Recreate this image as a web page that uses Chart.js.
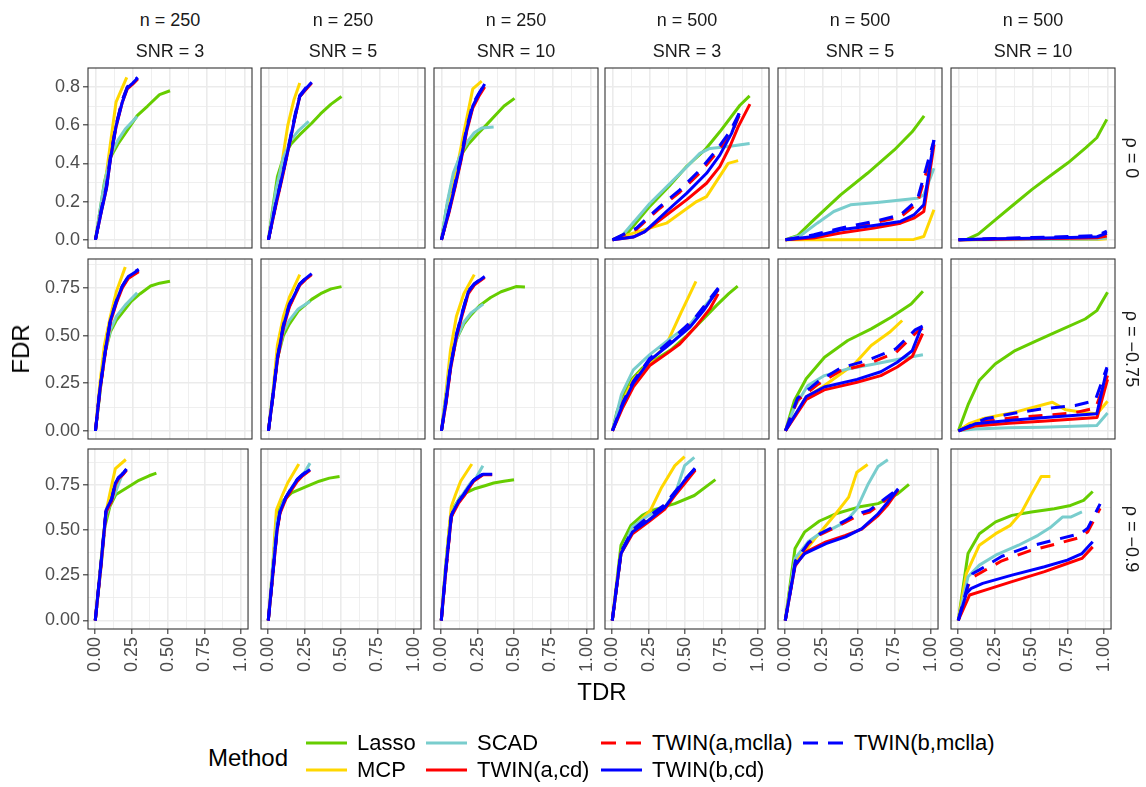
<!DOCTYPE html>
<html>
<head>
<meta charset="utf-8">
<script src="https://cdn.jsdelivr.net/npm/chart.js@4.4.1/dist/chart.umd.min.js"></script>
<style>
  body { margin: 0; background: #fff; width: 1146px; height: 787px; position: relative; overflow: hidden;
         font-family: "Liberation Sans", Arial, Helvetica, sans-serif; }
  canvas { position: absolute; }
  .txt { position: absolute; white-space: nowrap; color: #1a1a1a; }
  .strip { font-size: 18px; text-align: center; width: 164px; }
  .rstrip { font-size: 18px; transform: translate(-50%, -50%) rotate(90deg); }
  .title { font-size: 24px; color: #000; }
  .leg { font-size: 22px; color: #000; line-height: 26px; }
</style>
</head>
<body>
<script>
// ---- data ----
const methods = ['Lasso', 'MCP', 'SCAD', 'TWIN(a,cd)', 'TWIN(a,mclla)', 'TWIN(b,cd)', 'TWIN(b,mclla)'];
const nValues = [250, 250, 250, 500, 500, 500];
const snrValues = [3, 5, 10, 3, 5, 10];
const rhoLabels = ['ρ = 0', 'ρ = −0.75', 'ρ = −0.9'];
const xTickLabels = ['0.00', '0.25', '0.50', '0.75', '1.00'];
const yTickLabels = [['0.0', '0.2', '0.4', '0.6', '0.8'], ['0.00', '0.25', '0.50', '0.75'], ['0.00', '0.25', '0.50', '0.75']];

// each array: 18 panels, row-major (rho rows x n/SNR columns), points are [TDR, FDR]
const lasso = [
  [[0,0],[0.03,0.15],[0.06,0.3],[0.1,0.43],[0.15,0.5],[0.22,0.58],[0.28,0.65],[0.35,0.7],[0.43,0.76],[0.5,0.78]],
  [[0,0],[0.03,0.17],[0.06,0.33],[0.1,0.43],[0.15,0.5],[0.21,0.55],[0.29,0.61],[0.35,0.66],[0.42,0.71],[0.49,0.75]],
  [[0,0],[0.03,0.15],[0.07,0.3],[0.12,0.43],[0.18,0.5],[0.25,0.56],[0.3,0.6],[0.36,0.65],[0.42,0.7],[0.49,0.74]],
  [[0,0],[0.09,0.025],[0.25,0.175],[0.38,0.28],[0.5,0.386],[0.62,0.47],[0.72,0.565],[0.855,0.704],[0.92,0.753]],
  [[0,0],[0.08,0.021],[0.19,0.104],[0.37,0.235],[0.55,0.348],[0.73,0.47],[0.85,0.565],[0.93,0.649]],
  [[0,0],[0.06,0.003],[0.133,0.03],[0.253,0.108],[0.373,0.186],[0.494,0.264],[0.614,0.334],[0.735,0.403],[0.855,0.482],[0.928,0.534],[0.995,0.63]],
  [[0,0],[0.03,0.2],[0.06,0.4],[0.1,0.52],[0.14,0.58],[0.19,0.63],[0.24,0.68],[0.3,0.72],[0.37,0.76],[0.43,0.775],[0.5,0.785]],
  [[0,0],[0.03,0.2],[0.06,0.38],[0.1,0.5],[0.14,0.56],[0.2,0.63],[0.29,0.69],[0.35,0.72],[0.42,0.745],[0.49,0.757]],
  [[0,0],[0.03,0.18],[0.06,0.35],[0.1,0.48],[0.15,0.56],[0.2,0.61],[0.26,0.66],[0.33,0.7],[0.4,0.73],[0.5,0.757],[0.56,0.755]],
  [[0,0],[0.03,0.1],[0.07,0.18],[0.13,0.27],[0.2,0.33],[0.3,0.38],[0.4,0.43],[0.5,0.5],[0.6,0.58],[0.7,0.66],[0.78,0.72],[0.84,0.76]],
  [[0,0],[0.06,0.159],[0.139,0.273],[0.262,0.386],[0.418,0.474],[0.575,0.535],[0.709,0.596],[0.843,0.666],[0.922,0.733]],
  [[0,0],[0.067,0.142],[0.139,0.264],[0.246,0.351],[0.38,0.421],[0.515,0.47],[0.649,0.517],[0.85,0.587],[0.928,0.631],[1.0,0.727]],
  [[0,0],[0.03,0.25],[0.06,0.5],[0.1,0.63],[0.14,0.695],[0.19,0.72],[0.24,0.745],[0.3,0.775],[0.37,0.8],[0.42,0.815]],
  [[0,0],[0.03,0.25],[0.05,0.5],[0.07,0.61],[0.1,0.66],[0.16,0.705],[0.26,0.74],[0.35,0.77],[0.42,0.787],[0.49,0.796]],
  [[0,0],[0.03,0.3],[0.06,0.55],[0.09,0.63],[0.133,0.685],[0.18,0.71],[0.235,0.73],[0.3,0.745],[0.36,0.76],[0.43,0.77],[0.5,0.778]],
  [[0,0],[0.06,0.416],[0.128,0.526],[0.206,0.581],[0.273,0.609],[0.43,0.646],[0.564,0.691],[0.709,0.779]],
  [[0,0],[0.067,0.398],[0.134,0.49],[0.235,0.55],[0.347,0.59],[0.503,0.627],[0.638,0.646],[0.772,0.7],[0.85,0.752]],
  [[0,0],[0.067,0.37],[0.145,0.48],[0.257,0.545],[0.369,0.581],[0.503,0.6],[0.66,0.618],[0.772,0.636],[0.861,0.664],[0.924,0.713]]
];
const mcp = [
  [[0,0],[0.04,0.17],[0.074,0.35],[0.105,0.53],[0.138,0.72],[0.21,0.85]],
  [[0,0],[0.05,0.2],[0.09,0.4],[0.13,0.6],[0.17,0.73],[0.21,0.82]],
  [[0,0],[0.05,0.2],[0.1,0.36],[0.15,0.56],[0.21,0.79],[0.27,0.83]],
  [[0,0],[0.139,0.035],[0.25,0.061],[0.362,0.087],[0.564,0.2],[0.631,0.226],[0.776,0.4],[0.843,0.414]],
  [[0,0],[0.324,0.0],[0.861,0.002],[0.928,0.017],[0.996,0.157]],
  [[0,0],[0.5,0.001],[0.93,0.002],[0.995,0.005]],
  [[0,0],[0.03,0.25],[0.06,0.45],[0.1,0.6],[0.14,0.73],[0.2,0.86]],
  [[0,0],[0.03,0.2],[0.06,0.45],[0.1,0.6],[0.14,0.7],[0.21,0.82]],
  [[0,0],[0.03,0.2],[0.06,0.42],[0.1,0.6],[0.15,0.72],[0.22,0.82]],
  [[0,0],[0.06,0.14],[0.14,0.27],[0.25,0.36],[0.36,0.45],[0.46,0.62],[0.56,0.785]],
  [[0,0],[0.139,0.177],[0.262,0.238],[0.463,0.351],[0.575,0.448],[0.698,0.517],[0.783,0.579]],
  [[0,0],[0.07,0.037],[0.16,0.063],[0.38,0.098],[0.63,0.15],[0.72,0.11],[0.85,0.095],[0.93,0.09],[1.0,0.155]],
  [[0,0],[0.04,0.3],[0.074,0.6],[0.1,0.7],[0.138,0.84],[0.21,0.89]],
  [[0,0],[0.03,0.3],[0.056,0.61],[0.09,0.68],[0.133,0.76],[0.21,0.865]],
  [[0,0],[0.03,0.3],[0.069,0.63],[0.1,0.7],[0.133,0.77],[0.21,0.865]],
  [[0,0],[0.06,0.37],[0.139,0.508],[0.262,0.609],[0.34,0.737],[0.43,0.856],[0.497,0.906]],
  [[0,0],[0.067,0.334],[0.123,0.37],[0.213,0.462],[0.347,0.59],[0.436,0.682],[0.492,0.82],[0.566,0.862]],
  [[0,0],[0.056,0.26],[0.145,0.416],[0.257,0.48],[0.358,0.526],[0.436,0.6],[0.503,0.7],[0.57,0.796],[0.633,0.796]]
];
const scad = [
  [[0,0],[0.05,0.25],[0.1,0.44],[0.15,0.52],[0.2,0.58],[0.28,0.645]],
  [[0,0],[0.05,0.26],[0.1,0.43],[0.15,0.52],[0.2,0.57],[0.27,0.62]],
  [[0,0],[0.04,0.2],[0.08,0.35],[0.13,0.45],[0.18,0.52],[0.22,0.56],[0.27,0.585],[0.35,0.59]],
  [[0,0],[0.07,0.026],[0.25,0.19],[0.5,0.383],[0.586,0.452],[0.653,0.478],[0.765,0.487],[0.92,0.504]],
  [[0,0],[0.1,0.021],[0.213,0.087],[0.324,0.148],[0.436,0.183],[0.615,0.195],[0.884,0.217],[0.928,0.235],[0.996,0.374]],
  [[0,0],[0.5,0.002],[0.93,0.004],[0.995,0.01]],
  [[0,0],[0.03,0.2],[0.06,0.4],[0.1,0.53],[0.14,0.6],[0.2,0.66],[0.28,0.725]],
  [[0,0],[0.03,0.2],[0.06,0.38],[0.1,0.52],[0.14,0.58],[0.2,0.64],[0.28,0.68]],
  [[0,0],[0.03,0.18],[0.06,0.35],[0.1,0.48],[0.15,0.57],[0.2,0.62],[0.28,0.665]],
  [[0,0],[0.06,0.19],[0.14,0.32],[0.25,0.4],[0.38,0.48],[0.52,0.56],[0.63,0.665],[0.7,0.73]],
  [[0,0],[0.06,0.124],[0.15,0.238],[0.262,0.29],[0.418,0.325],[0.597,0.351],[0.776,0.378],[0.922,0.399]],
  [[0,0],[0.112,0.01],[0.336,0.016],[0.559,0.019],[0.928,0.028],[1.0,0.093]],
  [[0,0],[0.04,0.3],[0.074,0.58],[0.1,0.64],[0.14,0.71],[0.19,0.82]],
  [[0,0],[0.03,0.3],[0.06,0.55],[0.1,0.65],[0.15,0.72],[0.2,0.78],[0.25,0.82],[0.287,0.87]],
  [[0,0],[0.03,0.3],[0.069,0.58],[0.1,0.64],[0.15,0.7],[0.2,0.76],[0.24,0.79],[0.286,0.855]],
  [[0,0],[0.06,0.37],[0.139,0.517],[0.25,0.581],[0.362,0.627],[0.44,0.719],[0.497,0.856],[0.564,0.902]],
  [[0,0],[0.067,0.343],[0.157,0.435],[0.235,0.48],[0.324,0.508],[0.414,0.545],[0.492,0.618],[0.57,0.755],[0.638,0.851],[0.705,0.888]],
  [[0,0],[0.067,0.242],[0.145,0.306],[0.257,0.361],[0.414,0.416],[0.548,0.471],[0.638,0.517],[0.716,0.572],[0.772,0.572],[0.85,0.6]]
];
const twinACd = [
  [[0,0],[0.04,0.15],[0.074,0.27],[0.1,0.42],[0.138,0.59],[0.18,0.72],[0.214,0.79],[0.25,0.815],[0.283,0.84]],
  [[0,0],[0.05,0.18],[0.1,0.35],[0.14,0.5],[0.18,0.65],[0.21,0.75],[0.25,0.785],[0.29,0.82]],
  [[0,0],[0.05,0.14],[0.09,0.27],[0.13,0.41],[0.17,0.57],[0.21,0.69],[0.25,0.75],[0.29,0.8]],
  [[0,0],[0.139,0.014],[0.217,0.043],[0.362,0.13],[0.497,0.209],[0.631,0.296],[0.72,0.383],[0.787,0.487],[0.843,0.591],[0.922,0.71]],
  [[0,0],[0.19,0.009],[0.369,0.035],[0.593,0.061],[0.772,0.087],[0.861,0.113],[0.928,0.148],[0.996,0.496]],
  [[0,0],[0.25,0.003],[0.5,0.005],[0.75,0.008],[0.93,0.01],[0.995,0.02]],
  [[0,0],[0.03,0.21],[0.07,0.43],[0.1,0.57],[0.14,0.67],[0.18,0.75],[0.22,0.8],[0.25,0.815],[0.29,0.835]],
  [[0,0],[0.03,0.18],[0.06,0.37],[0.1,0.54],[0.14,0.65],[0.21,0.765],[0.25,0.795],[0.29,0.82]],
  [[0,0],[0.03,0.14],[0.06,0.32],[0.1,0.49],[0.14,0.61],[0.18,0.72],[0.22,0.765],[0.29,0.805]],
  [[0,0],[0.07,0.124],[0.139,0.229],[0.25,0.343],[0.362,0.404],[0.452,0.456],[0.564,0.552],[0.653,0.64],[0.709,0.719]],
  [[0,0],[0.14,0.165],[0.26,0.215],[0.48,0.255],[0.64,0.29],[0.75,0.335],[0.85,0.39],[0.92,0.51]],
  [[0,0],[0.11,0.025],[0.34,0.04],[0.56,0.05],[0.93,0.07],[1.0,0.27]],
  [[0,0],[0.04,0.31],[0.074,0.6],[0.112,0.66],[0.138,0.75],[0.16,0.785],[0.189,0.805],[0.214,0.83]],
  [[0,0],[0.03,0.24],[0.06,0.49],[0.08,0.59],[0.12,0.67],[0.159,0.72],[0.2,0.77],[0.236,0.8],[0.287,0.83]],
  [[0,0],[0.03,0.26],[0.069,0.57],[0.08,0.59],[0.12,0.65],[0.158,0.69],[0.19,0.73],[0.222,0.77],[0.25,0.785],[0.286,0.805],[0.35,0.805]],
  [[0,0],[0.06,0.37],[0.139,0.48],[0.25,0.545],[0.36,0.615],[0.43,0.69],[0.5,0.76],[0.57,0.83]],
  [[0,0],[0.067,0.3],[0.134,0.375],[0.28,0.435],[0.414,0.47],[0.526,0.505],[0.638,0.58],[0.705,0.64],[0.776,0.72]],
  [[0,0],[0.078,0.141],[0.19,0.169],[0.369,0.215],[0.593,0.27],[0.749,0.315],[0.85,0.343],[0.924,0.407]]
];
const twinAMclla = [
  [[0,0],[0.04,0.16],[0.074,0.28],[0.1,0.43],[0.138,0.6],[0.18,0.73],[0.214,0.8],[0.25,0.82],[0.283,0.845]],
  [[0,0],[0.05,0.19],[0.1,0.36],[0.14,0.5],[0.18,0.65],[0.21,0.75],[0.25,0.79],[0.29,0.82]],
  [[0,0],[0.05,0.15],[0.09,0.28],[0.13,0.42],[0.17,0.58],[0.21,0.7],[0.25,0.76],[0.29,0.81]],
  [[0,0],[0.161,0.055],[0.318,0.165],[0.452,0.25],[0.586,0.35],[0.698,0.455],[0.8,0.56],[0.85,0.65]],
  [[0,0],[0.19,0.022],[0.369,0.055],[0.593,0.088],[0.772,0.12],[0.884,0.19],[0.94,0.34],[0.996,0.5]],
  [[0,0],[0.25,0.005],[0.5,0.01],[0.75,0.014],[0.93,0.018],[0.995,0.035]],
  [[0,0],[0.03,0.215],[0.07,0.435],[0.1,0.575],[0.14,0.675],[0.18,0.755],[0.22,0.805],[0.25,0.82],[0.29,0.84]],
  [[0,0],[0.03,0.18],[0.06,0.375],[0.1,0.545],[0.14,0.655],[0.21,0.768],[0.25,0.798],[0.29,0.822]],
  [[0,0],[0.03,0.145],[0.06,0.325],[0.1,0.495],[0.14,0.615],[0.18,0.725],[0.22,0.768],[0.29,0.808]],
  [[0,0],[0.07,0.14],[0.14,0.25],[0.25,0.37],[0.4,0.47],[0.55,0.58],[0.62,0.65],[0.71,0.74]],
  [[0,0],[0.08,0.16],[0.22,0.245],[0.37,0.315],[0.55,0.35],[0.74,0.41],[0.87,0.51],[0.92,0.54]],
  [[0,0],[0.18,0.05],[0.38,0.07],[0.56,0.08],[0.78,0.095],[0.92,0.12],[1.0,0.29]],
  [[0,0],[0.04,0.315],[0.074,0.605],[0.112,0.665],[0.138,0.755],[0.16,0.788],[0.189,0.808],[0.214,0.832]],
  [[0,0],[0.03,0.245],[0.06,0.495],[0.08,0.595],[0.12,0.675],[0.159,0.725],[0.2,0.775],[0.236,0.803],[0.287,0.833]],
  [[0,0],[0.03,0.265],[0.069,0.575],[0.08,0.595],[0.12,0.655],[0.158,0.695],[0.19,0.735],[0.222,0.772],[0.25,0.788],[0.286,0.806],[0.35,0.806]],
  [[0,0],[0.06,0.375],[0.139,0.495],[0.25,0.57],[0.36,0.635],[0.43,0.705],[0.5,0.775],[0.57,0.835]],
  [[0,0],[0.07,0.325],[0.16,0.425],[0.24,0.475],[0.36,0.52],[0.5,0.58],[0.58,0.6],[0.68,0.66],[0.78,0.725]],
  [[0,0],[0.067,0.19],[0.1,0.24],[0.145,0.26],[0.3,0.33],[0.49,0.385],[0.66,0.42],[0.84,0.46],[0.89,0.49],[0.975,0.62]]
];
const twinBCd = [
  [[0,0],[0.04,0.15],[0.074,0.27],[0.1,0.42],[0.138,0.595],[0.18,0.72],[0.214,0.795],[0.25,0.82],[0.283,0.847]],
  [[0,0],[0.05,0.19],[0.1,0.36],[0.14,0.5],[0.18,0.65],[0.21,0.75],[0.25,0.79],[0.29,0.825]],
  [[0,0],[0.05,0.15],[0.09,0.28],[0.13,0.42],[0.17,0.58],[0.21,0.7],[0.25,0.76],[0.29,0.815]],
  [[0,0],[0.139,0.014],[0.217,0.043],[0.362,0.148],[0.497,0.243],[0.631,0.348],[0.72,0.443],[0.799,0.557],[0.85,0.661]],
  [[0,0],[0.19,0.017],[0.369,0.052],[0.593,0.075],[0.772,0.096],[0.861,0.13],[0.928,0.183],[0.996,0.522]],
  [[0,0],[0.25,0.005],[0.5,0.008],[0.75,0.012],[0.93,0.016],[0.995,0.035]],
  [[0,0],[0.03,0.22],[0.07,0.44],[0.1,0.58],[0.14,0.68],[0.18,0.76],[0.22,0.81],[0.25,0.825],[0.29,0.845]],
  [[0,0],[0.03,0.18],[0.06,0.38],[0.1,0.55],[0.14,0.66],[0.21,0.77],[0.25,0.8],[0.29,0.825]],
  [[0,0],[0.03,0.15],[0.06,0.33],[0.1,0.5],[0.14,0.62],[0.18,0.73],[0.22,0.77],[0.29,0.81]],
  [[0,0],[0.07,0.14],[0.14,0.25],[0.25,0.37],[0.4,0.465],[0.52,0.545],[0.61,0.63],[0.71,0.745]],
  [[0,0],[0.14,0.18],[0.26,0.23],[0.48,0.27],[0.64,0.31],[0.75,0.36],[0.85,0.42],[0.91,0.54]],
  [[0,0],[0.112,0.037],[0.336,0.054],[0.559,0.068],[0.928,0.089],[0.996,0.325]],
  [[0,0],[0.04,0.32],[0.074,0.61],[0.112,0.67],[0.138,0.76],[0.16,0.79],[0.189,0.81],[0.214,0.835]],
  [[0,0],[0.03,0.25],[0.06,0.5],[0.08,0.6],[0.12,0.68],[0.159,0.73],[0.2,0.78],[0.236,0.805],[0.287,0.835]],
  [[0,0],[0.03,0.27],[0.069,0.58],[0.08,0.6],[0.12,0.66],[0.158,0.7],[0.19,0.74],[0.222,0.775],[0.25,0.79],[0.286,0.808],[0.35,0.808]],
  [[0,0],[0.06,0.37],[0.139,0.49],[0.25,0.554],[0.362,0.627],[0.43,0.7],[0.497,0.774],[0.568,0.842]],
  [[0,0],[0.067,0.306],[0.134,0.37],[0.28,0.425],[0.414,0.462],[0.526,0.508],[0.638,0.59],[0.705,0.655],[0.776,0.728]],
  [[0,0],[0.056,0.15],[0.09,0.178],[0.168,0.205],[0.369,0.251],[0.593,0.297],[0.749,0.334],[0.85,0.37],[0.924,0.435]]
];
const twinBMclla = [
  [[0,0],[0.04,0.16],[0.074,0.28],[0.1,0.43],[0.138,0.6],[0.18,0.73],[0.214,0.8],[0.25,0.825],[0.283,0.85]],
  [[0,0],[0.05,0.19],[0.1,0.36],[0.14,0.51],[0.18,0.66],[0.21,0.755],[0.25,0.795],[0.29,0.825]],
  [[0,0],[0.05,0.15],[0.09,0.29],[0.13,0.43],[0.17,0.59],[0.21,0.71],[0.25,0.765],[0.29,0.815]],
  [[0,0],[0.161,0.061],[0.318,0.174],[0.452,0.261],[0.586,0.365],[0.698,0.47],[0.787,0.565],[0.855,0.67]],
  [[0,0],[0.19,0.026],[0.369,0.061],[0.593,0.096],[0.772,0.13],[0.884,0.209],[0.94,0.365],[0.996,0.522]],
  [[0,0],[0.25,0.007],[0.5,0.012],[0.75,0.017],[0.93,0.022],[0.995,0.045]],
  [[0,0],[0.03,0.22],[0.07,0.44],[0.1,0.58],[0.14,0.68],[0.18,0.76],[0.22,0.81],[0.25,0.83],[0.29,0.848]],
  [[0,0],[0.03,0.185],[0.06,0.385],[0.1,0.555],[0.14,0.665],[0.21,0.772],[0.25,0.802],[0.29,0.827]],
  [[0,0],[0.03,0.155],[0.06,0.335],[0.1,0.505],[0.14,0.625],[0.18,0.735],[0.22,0.772],[0.29,0.812]],
  [[0,0],[0.07,0.15],[0.14,0.26],[0.25,0.38],[0.4,0.48],[0.55,0.59],[0.62,0.66],[0.71,0.75]],
  [[0,0],[0.08,0.17],[0.22,0.26],[0.37,0.33],[0.55,0.37],[0.74,0.43],[0.87,0.53],[0.92,0.55]],
  [[0,0],[0.179,0.063],[0.38,0.093],[0.559,0.115],[0.783,0.133],[0.917,0.159],[0.996,0.334]],
  [[0,0],[0.04,0.32],[0.074,0.61],[0.112,0.67],[0.138,0.76],[0.16,0.79],[0.189,0.812],[0.214,0.838]],
  [[0,0],[0.03,0.25],[0.06,0.5],[0.08,0.6],[0.12,0.68],[0.159,0.732],[0.2,0.782],[0.236,0.807],[0.287,0.837]],
  [[0,0],[0.03,0.27],[0.069,0.58],[0.08,0.6],[0.12,0.66],[0.158,0.7],[0.19,0.74],[0.222,0.776],[0.25,0.792],[0.286,0.81],[0.35,0.81]],
  [[0,0],[0.06,0.38],[0.139,0.5],[0.25,0.575],[0.36,0.64],[0.43,0.71],[0.5,0.78],[0.57,0.84]],
  [[0,0],[0.07,0.33],[0.16,0.43],[0.24,0.48],[0.36,0.53],[0.5,0.59],[0.58,0.61],[0.68,0.67],[0.78,0.73]],
  [[0,0],[0.067,0.2],[0.1,0.26],[0.145,0.28],[0.3,0.355],[0.49,0.41],[0.66,0.445],[0.84,0.48],[0.89,0.51],[0.975,0.645]]
];
const seriesData = [lasso, mcp, scad, twinACd, twinAMclla, twinBCd, twinBMclla];

// ---- styles / layout ----
const lineColors = ['#66CD00', '#FFD700', '#79CDCD', '#FF0000', '#FF0000', '#0000FF', '#0000FF'];
const dashed = [false, false, false, false, true, false, true];
const colLeft = [88, 261, 434, 605, 778, 951];
const rowTop = [68, 259, 449];
const panelW = 164, panelH = 180;
const yRange = [[-0.043, 0.899], [-0.043, 0.902], [-0.047, 0.948]];
const yStep = [0.1, 0.125, 0.125];
const pad = 14;

Chart.defaults.font.family = '"Liberation Sans", Arial, Helvetica, sans-serif';

const panelBorder = {
  id: 'panelBorder',
  afterDraw(chart) {
    const { ctx, chartArea: a } = chart;
    ctx.save();
    ctx.strokeStyle = '#333333';
    ctx.lineWidth = 1.1;
    ctx.strokeRect(a.left, a.top, a.right - a.left, a.bottom - a.top);
    ctx.restore();
  }
};

function addText(cls, text, css) {
  const d = document.createElement('div');
  d.className = 'txt ' + cls;
  d.textContent = text;
  Object.assign(d.style, css);
  document.body.appendChild(d);
  return d;
}

function makePanel(r, c) {
  const idx = r * 6 + c;
  const isLeft = c === 0, isBottom = r === 2;
  const padL = isLeft ? colLeft[0] : pad;
  const padB = isBottom ? 66 : pad;

  const cv = document.createElement('canvas');
  cv.width = panelW + padL + pad;
  cv.height = panelH + pad + padB;
  cv.style.left = (colLeft[c] - padL) + 'px';
  cv.style.top = (rowTop[r] - pad) + 'px';
  document.body.appendChild(cv);

  const xTicks = [];
  for (let i = 0; i <= 8; i++) xTicks.push(i * 0.125);
  const yTicks = [];
  for (let v = 0; v <= yRange[r][1] + 1e-9; v += yStep[r]) yTicks.push(+v.toFixed(4));

  const datasets = methods.map((m, i) => ({
    label: m,
    data: seriesData[i][idx].map(([x, y]) => ({ x, y })),
    borderColor: lineColors[i],
    borderWidth: 3,
    borderDash: dashed[i] ? [14, 10] : [],
    borderCapStyle: 'butt',
    borderJoinStyle: 'round',
    pointRadius: 0,
    tension: 0,
    fill: false,
    order: methods.length - i
  }));

  const major = (ctx) => ctx.index % 2 === 0;

  new Chart(cv, {
    type: 'line',
    data: { datasets },
    plugins: [panelBorder],
    options: {
      responsive: false,
      animation: false,
      devicePixelRatio: 1,
      layout: { padding: { left: isLeft ? 0 : pad, right: pad, top: pad, bottom: isBottom ? 0 : pad } },
      plugins: { legend: { display: false }, tooltip: { enabled: false } },
      scales: {
        x: {
          type: 'linear', min: -0.05, max: 1.05,
          afterBuildTicks: s => { s.ticks = xTicks.map(v => ({ value: v })); },
          afterFit: s => { s.height = isBottom ? padB : 0; },
          border: { display: false },
          grid: {
            color: '#EBEBEB',
            lineWidth: ctx => major(ctx) ? 1.6 : 0.8,
            drawTicks: isBottom,
            tickLength: 5,
            tickColor: ctx => major(ctx) ? '#333333' : 'rgba(0,0,0,0)',
            tickWidth: 1.1
          },
          ticks: {
            display: isBottom,
            autoSkip: false,
            minRotation: 90, maxRotation: 90,
            padding: 3,
            color: '#4D4D4D',
            font: { size: 18 },
            callback: (v, i) => i % 2 === 0 ? xTickLabels[i / 2] : ''
          }
        },
        y: {
          type: 'linear', min: yRange[r][0], max: yRange[r][1],
          afterBuildTicks: s => { s.ticks = yTicks.map(v => ({ value: v })); },
          afterFit: s => { s.width = isLeft ? padL : 0; },
          border: { display: false },
          grid: {
            color: '#EBEBEB',
            lineWidth: ctx => major(ctx) ? 1.6 : 0.8,
            drawTicks: isLeft,
            tickLength: 5,
            tickColor: ctx => major(ctx) ? '#333333' : 'rgba(0,0,0,0)',
            tickWidth: 1.1
          },
          ticks: {
            display: isLeft,
            autoSkip: false,
            padding: 3,
            color: '#4D4D4D',
            font: { size: 18 },
            callback: (v, i) => i % 2 === 0 ? yTickLabels[r][i / 2] : ''
          }
        }
      }
    }
  });
}

for (let r = 0; r < 3; r++) for (let c = 0; c < 6; c++) makePanel(r, c);

// strip labels
for (let c = 0; c < 6; c++) {
  addText('strip', 'n = ' + nValues[c], { left: colLeft[c] + 'px', top: '10px' });
  addText('strip', 'SNR = ' + snrValues[c], { left: colLeft[c] + 'px', top: '41px' });
}
for (let r = 0; r < 3; r++) {
  addText('rstrip', rhoLabels[r], { left: '1131px', top: (rowTop[r] + panelH / 2) + 'px' });
}

// axis titles
addText('title', 'TDR', { left: '602px', top: '692px', transform: 'translate(-50%, -50%)' });
addText('title', 'FDR', { left: '21px', top: '349px', transform: 'translate(-50%, -50%) rotate(-90deg)' });

// legend
const legendOrder = [[0, 1], [2, 3], [4, 5], [6]];
const legKeyX = [306, 426, 601, 803];
const legRowY = [743, 770];
addText('title', 'Method', { left: '208px', top: '758px', transform: 'translateY(-50%)' });
legendOrder.forEach((col, ci) => {
  col.forEach((mi, ri) => {
    const y = legRowY[ri];
    const svgNS = 'http://www.w3.org/2000/svg';
    const svg = document.createElementNS(svgNS, 'svg');
    svg.setAttribute('width', 41); svg.setAttribute('height', 8);
    svg.style.position = 'absolute';
    svg.style.left = legKeyX[ci] + 'px';
    svg.style.top = (y - 4) + 'px';
    const ln = document.createElementNS(svgNS, 'line');
    ln.setAttribute('x1', 0); ln.setAttribute('x2', 41);
    ln.setAttribute('y1', 4); ln.setAttribute('y2', 4);
    ln.setAttribute('stroke', lineColors[mi]);
    ln.setAttribute('stroke-width', 3);
    if (dashed[mi]) ln.setAttribute('stroke-dasharray', '15 10');
    svg.appendChild(ln);
    document.body.appendChild(svg);
    addText('leg', methods[mi], { left: (legKeyX[ci] + 51) + 'px', top: (y - 13) + 'px' });
  });
});
</script>
</body>
</html>
